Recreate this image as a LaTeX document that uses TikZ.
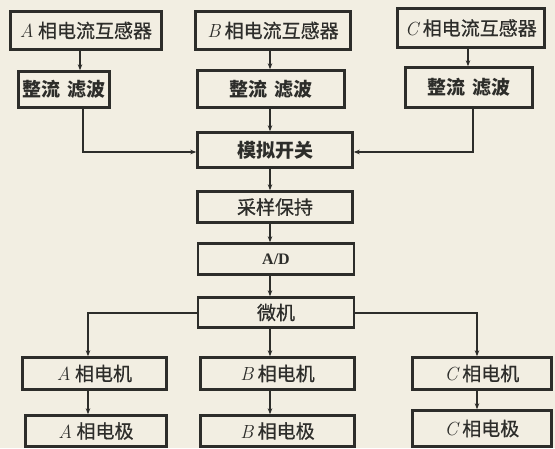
\documentclass[tikz,border=0pt]{standalone}
\usepackage{fontspec}
\newfontfamily\cjk{Noto Sans CJK SC}[UprightFeatures={FakeBold=0.6}]
\newfontfamily\cjkb{Noto Sans CJK SC}
\newfontfamily\adfont{Liberation Serif}
\usetikzlibrary{arrows.meta}
\definecolor{paper}{RGB}{242,238,226}
\definecolor{ink}{RGB}{45,45,42}
\newcommand{\ph}[1]{{\rmfamily\mdseries\itshape #1}}
\tikzset{
  blk/.style={draw=ink, line width=2.4pt, fill=paper, inner sep=0pt, font=\cjk\fontsize{19}{19}\selectfont, text=ink},
  arr/.style={draw=ink, line width=1.4pt, -{Stealth[length=6pt,width=4.5pt]}},
}
\newcommand{\bx}[6]{\node[blk, minimum width=#4pt, minimum height=#5pt] (#1) at (#2,#3) {#6};}
\begin{document}
\begin{tikzpicture}[x=1pt,y=-1pt]
\fill[paper] (0,0) rectangle (555,448);
\useasboundingbox (0,0) rectangle (555,448);
% top row
\bx{sA}{86}{30.5}{151}{38}{\ph{A} 相电流互感器}
\bx{sB}{273}{30.5}{155}{38}{\ph{B} 相电流互感器}
\bx{sC}{471}{28}{147}{39}{\ph{C} 相电流互感器}
% rectifier row
\bx{rA}{64}{89.5}{91}{36}{\cjkb\bfseries 整流\,\,滤波}
\bx{rB}{271}{89}{147}{37}{\cjkb\bfseries 整流\,\,滤波}
\bx{rC}{469}{87.5}{127}{40}{\cjkb\bfseries 整流\,\,滤波}
% centre column
\bx{sw}{275}{150}{155}{35}{\cjkb\bfseries 模拟开关}
\bx{sh}{275}{207}{155}{31}{采样保持}
\bx{ad}{276}{259}{156}{31}{\adfont\bfseries\fontsize{16}{16}\selectfont A/D}
\bx{mc}{276}{312.5}{156}{30}{微机}
% motors
\bx{mA}{94.5}{373.5}{144}{32}{\ph{A} 相电机}
\bx{mB}{277.5}{373.5}{154}{32}{\ph{B} 相电机}
\bx{mC}{482}{373.5}{139}{32}{\ph{C} 相电机}
% electrodes
\bx{eA}{96}{431}{141}{31}{\ph{A} 相电极}
\bx{eB}{277.5}{431}{154}{31}{\ph{B} 相电极}
\bx{eC}{482}{428.5}{139}{36}{\ph{C} 相电极}
% connectors
\coordinate (xa) at (80,0);
\coordinate (xb) at (270,0);
\coordinate (xc) at (468,0);
\draw[arr] (sA.south -| xa) -- (rA.north -| xa);
\draw[arr] (sB.south -| xb) -- (rB.north -| xb);
\draw[arr] (sC.south -| xc) -- (rC.north -| xc);
\coordinate (ja) at (83,152);
\coordinate (jc) at (473,152);
\draw[arr] (rA.south -| ja) -- (ja) -- (sw.west |- ja);
\draw[arr] (rB.south -| xb) -- (sw.north -| xb);
\draw[arr] (rC.south -| jc) -- (jc) -- (sw.east |- jc);
\draw[arr] (sw.south -| xb) -- (sh.north -| xb);
\draw[arr] (sh.south -| xb) -- (ad.north -| xb);
\draw[arr] (ad.south -| xb) -- (mc.north -| xb);
\coordinate (ka) at (88,313);
\coordinate (kc) at (477,313);
\draw[arr] (mc.west |- ka) -- (ka) -- (mA.north -| ka);
\draw[arr] (mc.south -| xb) -- (mB.north -| xb);
\draw[arr] (mc.east |- kc) -- (kc) -- (mC.north -| kc);
\draw[arr] (mA.south -| ka) -- (eA.north -| ka);
\draw[arr] (mB.south -| xb) -- (eB.north -| xb);
\draw[arr] (mC.south -| kc) -- (eC.north -| kc);
\end{tikzpicture}
\end{document}
